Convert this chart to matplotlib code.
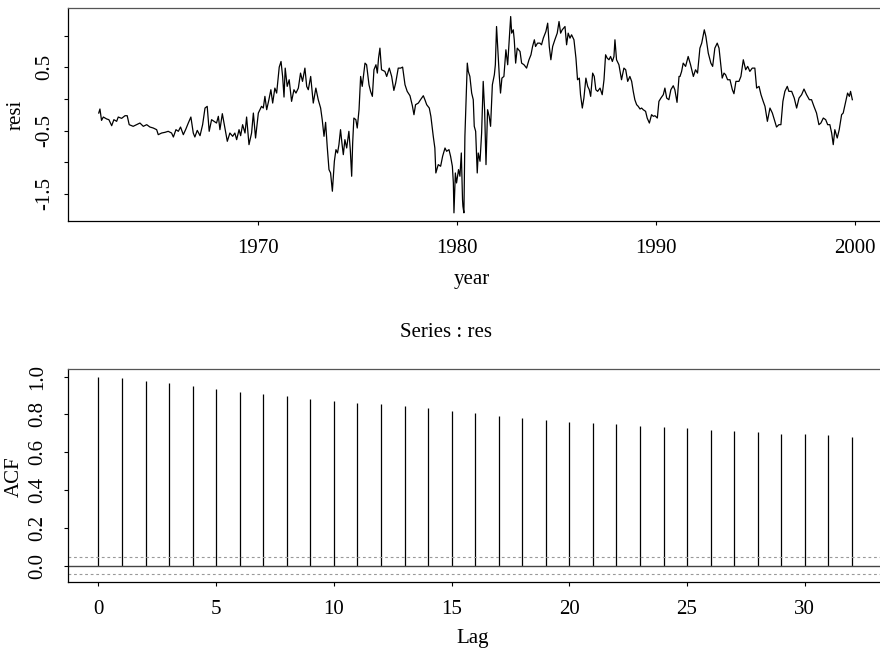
import matplotlib
matplotlib.use("Agg")
import matplotlib.pyplot as plt

plt.rcParams['font.family'] = ['Liberation Serif', 'DejaVu Serif']

# ---------------- data: residual series ----------------
year = [
 1962.00,1962.06,1962.14,1962.23,1962.40,1962.51,1962.65,1962.76,1962.90,1962.98,
 1963.15,1963.32,1963.43,1963.53,1963.73,1963.90,1964.07,1964.24,1964.41,1964.57,
 1964.74,1964.91,1964.99,1965.16,1965.33,1965.49,1965.66,1965.75,1965.88,1966.00,
 1966.11,1966.25,1966.38,1966.50,1966.63,1966.75,1966.83,1966.95,1967.09,1967.22,
 1967.34,1967.45,1967.55,1967.67,1967.79,1967.92,1968.01,1968.09,1968.21,1968.34,
 1968.46,1968.59,1968.73,1968.84,1968.93,1969.05,1969.13,1969.23,1969.35,1969.43,
 1969.55,1969.68,1969.77,1969.88,1970.02,1970.10,1970.18,1970.27,1970.35,1970.44,
 1970.55,1970.65,1970.74,1970.85,1970.94,1971.02,1971.07,
 1971.16,1971.24,1971.31,1971.37,1971.47,1971.57,1971.69,1971.81,1971.91,1972.03,
 1972.14,1972.24,1972.36,1972.45,1972.53,1972.65,1972.78,1972.91,1973.03,1973.15,
 1973.23,1973.32,1973.40,1973.48,1973.57,1973.65,1973.74,1973.84,1973.92,1974.00,
 1974.07,1974.15,1974.22,1974.29,1974.37,1974.46,1974.57,1974.64,1974.71,1974.76,
 1974.82,1974.92,1974.99,1975.08,1975.16,1975.24,1975.38,1975.46,1975.58,1975.66,
 1975.75,1975.83,1975.93,1976.00,1976.06,1976.13,1976.21,1976.38,1976.47,1976.60,
 1976.72,1976.83,1976.92,1977.05,1977.17,1977.27,1977.39,1977.50,1977.64,1977.76,
 1977.84,1977.92,1978.06,1978.17,1978.31,1978.39,1978.48,1978.61,1978.69,1978.81,
 1978.89,1978.94,1979.06,1979.18,1979.28,1979.40,1979.48,1979.60,1979.68,1979.77,
 1979.82,1979.85,1979.92,1979.98,1980.08,1980.15,1980.22,1980.28,
 1980.30,1980.35,1980.40,1980.52,1980.57,1980.65,1980.74,1980.82,1980.87,1980.94,
 1981.02,1981.07,1981.16,1981.24,1981.32,1981.39,1981.46,1981.54,1981.62,1981.69,
 1981.78,1981.88,1981.93,1981.99,1982.08,1982.13,1982.19,1982.26,1982.36,1982.46,
 1982.55,1982.63,1982.70,1982.75,1982.83,1982.88,1982.95,1983.03,1983.17,1983.25,
 1983.37,1983.50,1983.62,1983.72,1983.80,1983.89,1983.95,1984.05,1984.17,1984.25,
 1984.34,1984.47,1984.56,1984.64,1984.72,1984.81,1984.92,1985.04,1985.13,1985.21,
 1985.29,1985.43,1985.51,1985.59,1985.68,1985.76,1985.88,1985.98,1986.06,1986.15,
 1986.21,1986.30,1986.38,1986.48,1986.57,1986.65,1986.72,1986.82,1986.90,1986.98,
 1987.07,1987.19,1987.30,1987.39,1987.47,1987.55,1987.64,1987.72,1987.81,1987.89,
 1987.94,1988.02,1988.14,1988.27,1988.39,1988.48,1988.58,1988.69,1988.78,1988.86,
 1988.94,1989.03,1989.11,1989.20,1989.28,1989.36,1989.48,1989.56,1989.67,1989.78,
 1989.87,1989.95,1990.07,
 1990.15,1990.25,1990.37,1990.45,1990.54,1990.65,1990.75,1990.87,1990.95,1991.06,
 1991.16,1991.21,1991.29,1991.37,1991.49,1991.62,1991.74,1991.88,1991.99,1992.09,
 1992.21,1992.30,1992.43,1992.51,1992.63,1992.76,1992.85,1992.96,1993.08,1993.17,
 1993.25,1993.33,1993.42,1993.50,1993.60,1993.72,1993.84,1993.92,1994.02,1994.17,
 1994.27,1994.39,1994.51,1994.61,1994.72,1994.84,1994.97,1995.06,1995.18,1995.28,
 1995.39,1995.48,1995.60,1995.73,1995.85,1995.95,1996.06,1996.18,1996.28,1996.38,
 1996.48,1996.60,1996.68,1996.82,1996.95,1997.07,1997.19,1997.32,1997.44,1997.57,
 1997.71,1997.82,1997.94,1998.07,1998.19,1998.29,1998.41,1998.53,1998.63,1998.74,
 1998.83,1998.91,1998.99,1999.11,1999.21,1999.33,1999.41,1999.50,1999.63,1999.72,
 1999.78,1999.87,
]
resi = [
 -0.222,-0.158,-0.338,-0.285,-0.316,-0.327,-0.422,-0.327,-0.353,-0.285,
 -0.306,-0.264,-0.264,-0.406,-0.432,-0.406,-0.380,-0.432,-0.406,-0.443,
 -0.459,-0.485,-0.564,-0.538,-0.527,-0.511,-0.538,-0.601,-0.485,-0.511,
 -0.443,-0.564,-0.474,-0.380,-0.285,-0.538,-0.601,-0.496,-0.580,-0.406,
 -0.143,-0.116,-0.511,-0.327,-0.353,-0.380,-0.274,-0.485,-0.232,-0.459,
 -0.669,-0.538,-0.590,-0.538,-0.643,-0.485,-0.580,-0.406,-0.538,-0.285,
 -0.722,-0.538,-0.222,-0.617,-0.222,-0.169,-0.116,-0.143,0.042,-0.169,
 -0.011,0.147,-0.064,0.173,0.094,0.357,0.505,
 0.594,0.357,0.031,0.489,0.200,0.305,-0.037,0.147,0.094,0.173,
 0.410,0.279,0.489,0.200,0.147,0.357,-0.064,0.173,-0.011,-0.143,
 -0.327,-0.590,-0.369,-0.748,-1.117,-1.170,-1.459,-0.985,-0.801,-0.854,
 -0.722,-0.485,-0.696,-0.880,-0.643,-0.775,-0.511,-0.801,-1.222,-0.696,
 -0.301,-0.327,-0.459,-0.169,0.357,0.200,0.568,0.542,0.226,0.121,
 0.042,0.463,0.542,0.410,0.647,0.805,0.463,0.437,0.357,0.489,
 0.357,0.136,0.252,0.489,0.489,0.505,0.226,0.121,0.052,-0.106,
 -0.248,-0.090,-0.064,-0.011,0.052,-0.011,-0.090,-0.143,-0.274,-0.590,
 -0.775,-1.170,-1.038,-1.064,-0.906,-0.775,-0.827,-0.801,-0.906,-1.064,
 -1.328,-1.801,-1.170,-1.328,-1.117,-1.222,-0.854,-1.591,
 -1.696,-1.801,-0.590,0.568,0.437,0.357,0.094,-0.011,-0.432,-0.511,
 -1.170,-0.854,-0.985,-0.538,0.279,-0.169,-1.038,-0.169,-0.274,-0.432,
 0.226,0.384,0.542,1.147,0.647,0.357,0.094,0.331,0.357,0.779,
 0.542,0.937,1.305,1.042,1.095,0.937,0.568,0.805,0.752,0.568,
 0.542,0.489,0.621,0.700,0.831,0.937,0.831,0.884,0.884,0.858,
 0.963,1.068,1.200,0.831,0.621,0.831,0.937,1.042,1.226,1.042,
 1.095,1.147,0.858,1.042,0.963,1.016,0.937,0.647,0.305,0.331,
 0.068,-0.143,0.015,0.331,0.200,0.147,0.042,0.410,0.357,0.147,
 0.121,0.173,0.068,0.305,0.700,0.647,0.621,0.673,0.594,0.673,
 0.937,0.621,0.542,0.305,0.489,0.463,0.279,0.357,0.279,0.121,
 -0.011,-0.090,-0.116,-0.158,-0.143,-0.169,-0.195,-0.301,-0.380,-0.248,
 -0.274,-0.264,-0.301,
 -0.037,0.015,0.068,0.173,0.015,-0.011,0.147,0.210,0.147,-0.053,
 0.357,0.357,0.437,0.568,0.516,0.673,0.542,0.357,0.463,0.410,
 0.805,0.884,1.095,0.989,0.726,0.568,0.516,0.805,0.884,0.805,
 0.568,0.331,0.410,0.384,0.305,0.305,0.147,0.084,0.279,0.279,
 0.357,0.621,0.463,0.516,0.437,0.489,0.489,0.173,0.200,0.068,
 -0.037,-0.116,-0.353,-0.143,-0.222,-0.327,-0.443,-0.406,-0.406,-0.037,
 0.121,0.200,0.121,0.121,0.015,-0.143,0.015,0.068,0.158,0.068,
 -0.011,-0.011,-0.116,-0.222,-0.406,-0.380,-0.301,-0.327,-0.406,-0.406,
 -0.538,-0.722,-0.485,-0.617,-0.485,-0.248,-0.222,-0.090,0.094,0.042,
 0.121,-0.011,
]

# ---------------- data: autocorrelation function ----------------
lags = list(range(33))
acf = [1.000,0.993,0.979,0.965,0.951,0.935,0.919,0.907,0.896,0.884,
       0.873,0.862,0.854,0.843,0.833,0.819,0.806,0.794,0.781,0.771,
       0.760,0.753,0.748,0.739,0.734,0.729,0.720,0.713,0.705,0.698,
       0.695,0.690,0.683]
conf_band = 0.045

top_yticks = [-1.5, -1.0, -0.5, 0.0, 0.5, 1.0]
top_ylabels = ["-1.5", "", "-0.5", "", "0.5", ""]
top_xticks = [1970, 1980, 1990, 2000]
bot_xticks = [0, 5, 10, 15, 20, 25, 30]
bot_yticks = [0.0, 0.2, 0.4, 0.6, 0.8, 1.0]

W, H = 880, 649
fig = plt.figure(figsize=(W / 100, H / 100), dpi=100)

FS = 15

def px_rect(left, top, right, bottom):
    return [left / W, 1 - bottom / H, (right - left) / W, (bottom - top) / H]

def style(ax):
    for s in ax.spines.values():
        s.set_linewidth(0.9)
        s.set_color('black')
    ax.spines['top'].set_color('#555555')
    ax.tick_params(direction='out', length=3, width=0.8, labelsize=FS)

# ---------------- top panel ----------------
ax1 = fig.add_axes(px_rect(68.3, 8, 882, 221))
ax1.plot(year, resi, color='black', lw=0.9)
ax1.set_xlim(1960.47, 2001.36)
ax1.set_ylim(-1.93, 1.44)
ax1.set_xticks(top_xticks)
ax1.set_xticklabels([str(t) for t in top_xticks])
ax1.set_yticks(top_yticks)
ax1.set_yticklabels(top_ylabels, rotation=90, va='center')
style(ax1)
ax1.tick_params(axis='x', pad=10)
ax1.tick_params(axis='y', pad=7)

# ---------------- bottom panel ----------------
ax2 = fig.add_axes(px_rect(68.3, 368.7, 882, 582))
ax2.vlines(lags, 0, acf, color='black', lw=0.9)
ax2.axhline(0, color='#444444', lw=1.0)
ax2.axhline(conf_band, color='#999999', lw=0.8, ls=(0, (2.5, 2.5)))
ax2.axhline(-conf_band, color='#999999', lw=0.8, ls=(0, (2.5, 2.5)))
ax2.set_xlim(-1.28, 33.28)
ax2.set_ylim(-0.087, 1.042)
ax2.set_xticks(bot_xticks)
ax2.set_xticklabels([str(t) for t in bot_xticks])
ax2.set_yticks(bot_yticks)
ax2.set_yticklabels(["%.1f" % v for v in bot_yticks], rotation=90, va='center')
style(ax2)
ax2.tick_params(axis='x', pad=10)
ax2.tick_params(axis='y', pad=12.5)

# ---------------- labels ----------------
fig.text(472 / W, 1 - 280 / H, "year", ha='center', va='center', fontsize=FS)
fig.text(16 / W, 1 - 115 / H, "resi", ha='center', va='center', rotation=90, fontsize=FS)
fig.text(446 / W, 1 - 332 / H, "Series : res", ha='center', va='center', fontsize=FS)
fig.text(473 / W, 1 - 638 / H, "Lag", ha='center', va='center', fontsize=FS)
fig.text(14 / W, 1 - 477 / H, "ACF", ha='center', va='center', rotation=90, fontsize=FS)

fig.savefig("out.png", dpi=100)
